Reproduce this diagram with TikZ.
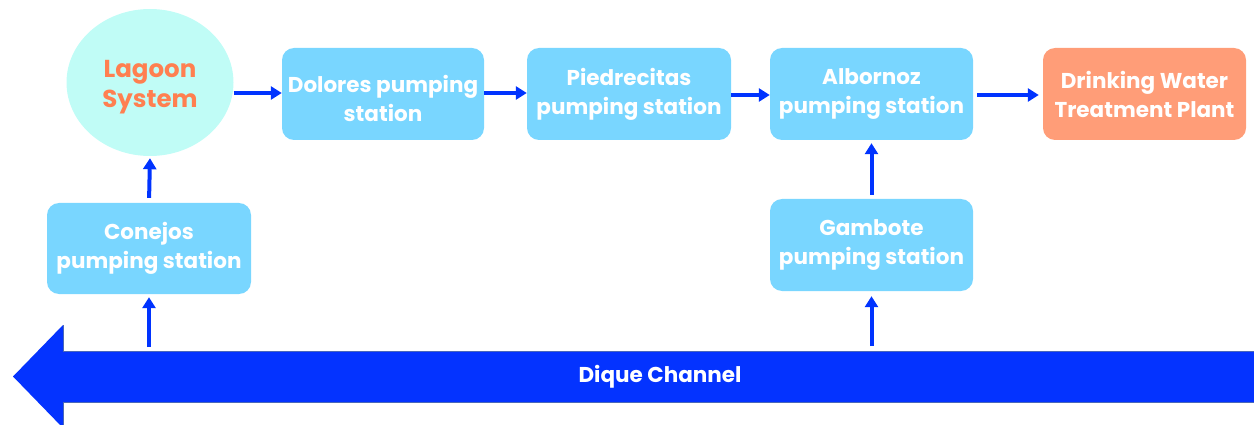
\documentclass[tikz,border=0pt]{standalone}
\usepackage{fontspec}
\setmainfont{Poppins}
\usetikzlibrary{arrows.meta,shapes.geometric}
\definecolor{stationfill}{HTML}{79D6FF}
\definecolor{lagoonfill}{HTML}{C0FCF6}
\definecolor{lagoontext}{HTML}{FF7F50}
\definecolor{plantfill}{HTML}{FF9D78}
\definecolor{flowblue}{HTML}{0033FF}
\definecolor{channelblue}{HTML}{0433FF}
\definecolor{channeledge}{HTML}{4A68B8}
\tikzset{
  stationbox/.style={rectangle, rounded corners=12pt, fill=stationfill,
    minimum width=203pt, minimum height=92pt, inner sep=0pt, align=center,
    text=white, font=\bfseries\fontsize{21.5}{29}\selectfont},
  plantbox/.style={stationbox, fill=plantfill},
  lagoonnode/.style={ellipse, fill=lagoonfill, minimum width=167pt,
    minimum height=147pt, inner sep=0pt},
  lagoonlabel/.style={inner sep=0pt, align=center, text=lagoontext,
    font=\bfseries\fontsize{24.5}{30}\selectfont},
  stationlabel/.style={inner sep=0pt, align=center, text=white,
    font=\bfseries\fontsize{21.5}{29}\selectfont},
  flow/.style={draw=flowblue, line width=4pt,
    -{Triangle[length=11pt,width=13pt]}}
}
\begin{document}
\begin{tikzpicture}[x=1pt,y=-1pt]
\useasboundingbox (0,0) rectangle (1254,425);

% stations along the main line
\node[lagoonnode] (lagoon) at (150,82.5) {};
\node[lagoonlabel] (lagoontitle) at (150,87) {Lagoon\\System};
\node[stationbox, minimum width=202pt] (dolores) at (383,94) {};
\node[stationlabel] (dolorestitle) at (383,98) {Dolores pumping\\station};
\node[stationbox, minimum width=204pt] (piedrecitas) at (629,94) {Piedrecitas\\pumping station};
\node[stationbox] (albornoz) at (871.5,94) {Albornoz\\pumping station};
\node[plantbox] (plant) at (1144.5,94) {Drinking Water\\Treatment Plant};

% intake stations
\node[stationbox, minimum width=204pt, minimum height=91pt] (conejos) at (149,248.5) {Conejos\\pumping station};
\node[stationbox] (gambote) at (871.5,245) {Gambote\\pumping station};

% Dique Channel, flowing to the left
\fill[channelblue] (1254,351) -- (63,351) -- (63,325) -- (13,376.5)
  -- (63,428) -- (63,402) -- (1254,402) -- cycle;
\draw[channeledge, line width=0.8pt] (1254,351) -- (63,351) -- (63,325);
\draw[channeledge, line width=0.8pt] (1254,402) -- (63,402) -- (63,428);
\node[text=white, font=\bfseries\fontsize{21.5}{24}\selectfont] (channel) at (660,376.5) {Dique Channel};
\coordinate (chtop) at (0,351);

% horizontal flow
\draw[flow] (lagoon.east |- 0,93) -- (dolores.west |- 0,93);
\draw[flow] (dolores.east |- 0,93) -- (piedrecitas.west |- 0,93);
\draw[flow] (piedrecitas.east |- 0,95) -- (albornoz.west |- 0,95);
\draw[flow, shorten <=4pt, shorten >=4pt] (albornoz.east |- 0,95) -- (plant.west |- 0,95);

% vertical flow
\draw[flow, shorten <=5pt, shorten >=2pt] (conejos.north) -- (lagoon.south);
\draw[flow, shorten <=4pt, shorten >=3pt] (conejos.south |- chtop) -- (conejos.south);
\draw[flow, shorten <=4pt, shorten >=3pt] (gambote.north) -- (albornoz.south);
\draw[flow, shorten <=5pt, shorten >=5pt] (gambote.south |- chtop) -- (gambote.south);
\end{tikzpicture}
\end{document}
